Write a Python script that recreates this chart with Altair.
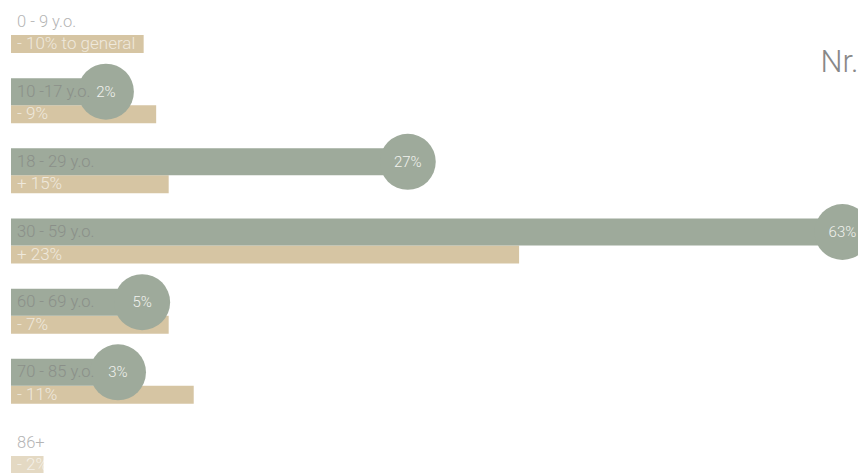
import altair as alt
import pandas as pd

ages = ["0 - 9 y.o.", "10 -17 y.o.", "18 - 29 y.o.", "30 - 59 y.o.", "60 - 69 y.o.", "70 - 85 y.o.", "86+"]
shares = [0, 2, 27, 63, 5, 3, 0]
diffs = [-10, -9, 15, 23, -7, -11, -2]
diff_labels = ["- 10% to general", "- 9%", "+ 15%", "+ 23%", "- 7%", "- 11%", "- 2%"]

df = pd.DataFrame({"age": ages, "share": shares, "diff": diffs, "diff_label": diff_labels})
df["general"] = df["share"] - df["diff"]
df["share_label"] = df["share"].astype(str) + "%"

GREEN = "#9eaa9b"
TAN = "#d6c5a3"
FONT = "Roboto"

GEN_DOMAIN = [-0.6, 67.08]
SHARE_DOMAIN = [-5.86, 64.29]

y = alt.Y("age:N", sort=ages, scale=alt.Scale(type="point", padding=0), axis=None)
x_gen = alt.X("general:Q", scale=alt.Scale(domain=GEN_DOMAIN, zero=False), axis=None)
x_share = alt.X("share:Q", scale=alt.Scale(domain=SHARE_DOMAIN, zero=False), axis=None)

base = alt.Chart(df)

tan = base.mark_bar(height=18, yOffset=9, color=TAN).encode(
    x=x_gen, x2=alt.datum(GEN_DOMAIN[0]), y=y,
    opacity=alt.condition("datum.age == '86+'", alt.value(0.65), alt.value(1)),
)

green_df = base.transform_filter("datum.share > 0")
green = green_df.mark_bar(height=27, yOffset=-13.5, color=GREEN).encode(
    x=x_share, x2=alt.datum(SHARE_DOMAIN[0]), y=y
)
circles = green_df.mark_circle(size=3136, yOffset=-13.5, color=GREEN, opacity=1).encode(
    x=x_share, y=y
)
circle_text = green_df.mark_text(
    yOffset=-13.5, align="center", baseline="middle", font=FONT, fontSize=15,
    fontWeight=300, color="#f1f2ee",
).encode(x=x_share, y=y, text="share_label:N")

age_text = base.mark_text(
    dx=6, yOffset=-13.5, align="left", baseline="middle", font=FONT, fontSize=16.5,
    fontWeight=300, color="#7c7c7c", opacity=0.57,
).encode(x=alt.value(0), y=y, text="age:N")

diff_text = base.mark_text(
    dx=6, yOffset=9, align="left", baseline="middle", font=FONT, fontSize=17,
    fontWeight=300, color="#ffffff", opacity=0.62,
).encode(x=alt.value(0), y=y, text="diff_label:N")

chart = alt.layer(tan, green, circles, circle_text, age_text, diff_text).resolve_scale(
    x="independent"
).properties(
    width=847,
    height=421,
    autosize=alt.AutoSizeParams(type="none"),
    padding={"left": 11, "top": 35, "right": 0, "bottom": 17},
    title=alt.Title("Nr.", anchor="end", fontSize=31, fontWeight=300, color="#888888",
                    font=FONT, baseline="alphabetic", dy=89, dx=-12, offset=0),
).configure_view(stroke=None)

chart.save("out.html", embed_options={"renderer": "svg", "actions": False})
